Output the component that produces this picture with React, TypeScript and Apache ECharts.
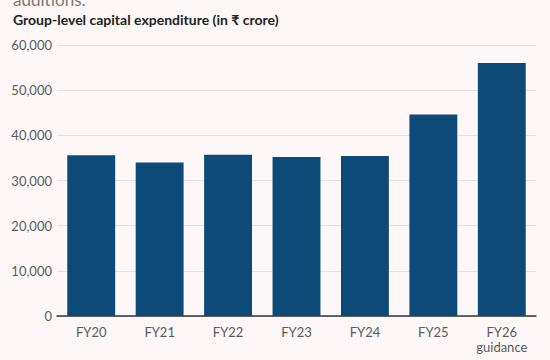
import React, { useEffect, useRef } from "react";
import * as echarts from "echarts";

const categories = ["FY20", "FY21", "FY22", "FY23", "FY24", "FY25", "FY26\nguidance"];
const capex = [35600, 34000, 35700, 35200, 35400, 44600, 56000];
const yTicks = [0, 10000, 20000, 30000, 40000, 50000, 60000];

export default function App() {
  const ref = useRef<HTMLDivElement>(null);
  useEffect(() => {
    if (!ref.current) return;
    const chart = echarts.init(ref.current, null, { renderer: "svg" });
    chart.setOption({
      animation: false,
      backgroundColor: "#fdf8f7",
      textStyle: { fontFamily: "Lato" },
      graphic: [
        {
          type: "text",
          left: 13,
          top: -9,
          style: { text: "additions.", font: "17px Lato", fill: "#7a7878" },
        },
        {
          type: "text",
          left: 13,
          top: 12,
          style: {
            text: "Group-level capital expenditure (in ₹ crore)",
            font: "bold 14px Lato",
            fill: "#222222",
          },
        },
      ],
      grid: { left: 57, right: 14, top: 45, bottom: 44, containLabel: false },
      xAxis: {
        type: "category",
        data: categories,
        axisLine: { lineStyle: { color: "#333333", width: 1.5 } },
        axisTick: { alignWithLabel: true, length: 5, lineStyle: { color: "#333333" } },
        axisLabel: { color: "#5a5a5a", fontSize: 13, margin: 8, lineHeight: 15, fontFamily: "Lato" },
      },
      yAxis: {
        type: "value",
        min: 0,
        max: 60000,
        interval: 10000,
        axisLine: { show: false },
        axisTick: { show: false },
        splitLine: { lineStyle: { color: "#e6e1e0", width: 1 } },
        axisLabel: {
          color: "#5a5a5a",
          fontSize: 13,
          margin: 5,
          fontFamily: "Lato",
          formatter: (v: number) => (yTicks.includes(v) ? v.toLocaleString("en-US") : ""),
        },
      },
      series: [
        {
          type: "bar",
          data: capex,
          barCategoryGap: "30%",
          itemStyle: { color: "#0d4a78" },
        },
      ],
    });
    return () => chart.dispose();
  }, []);
  return <div ref={ref} style={{ position: "fixed", left: 0, top: 0, width: 550, height: 360 }} />;
}
